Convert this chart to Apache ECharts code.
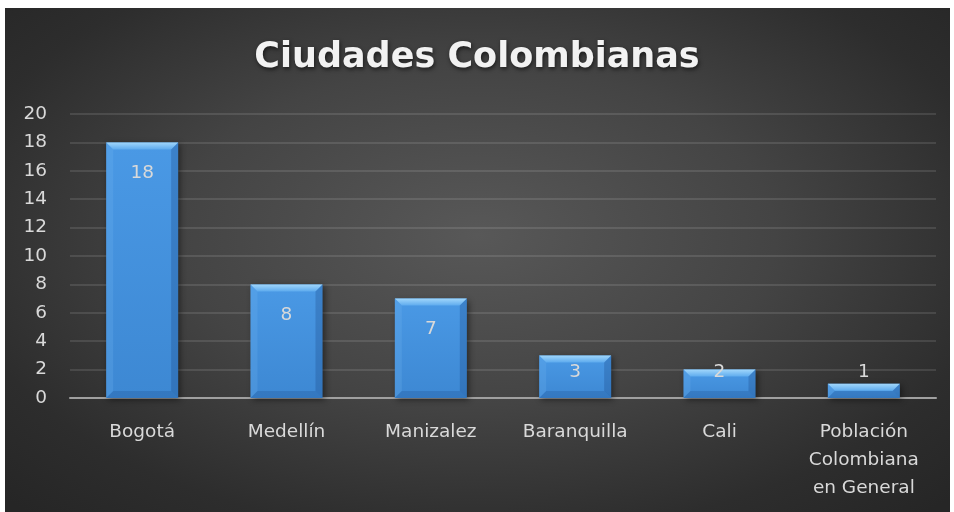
<!DOCTYPE html>
<html>
<head>
<meta charset="utf-8">
<script src="https://cdn.jsdelivr.net/npm/echarts@6/dist/echarts.min.js"></script>
<style>
  html, body { margin: 0; padding: 0; background: #ffffff; }
  #bg { position: absolute; left: 5px; top: 8px; width: 945px; height: 504px;
        background: radial-gradient(ellipse 70% 75% at 50% 45%, #585858 0%, #444444 45%, #2d2d2d 80%, #262626 100%); }
  #chart { position: absolute; left: 0; top: 0; width: 954px; height: 512px; }
</style>
</head>
<body>
<div id="bg"></div>
<div id="chart"></div>
<script>
const titleText = 'Ciudades Colombianas';
const categories = ['Bogotá', 'Medellín', 'Manizalez', 'Baranquilla', 'Cali', 'Población\nColombiana\nen General'];
const values = [18, 8, 7, 3, 2, 1];
const yTicks = { min: 0, max: 20, interval: 2 };

const chart = echarts.init(document.getElementById('chart'), null, { renderer: 'canvas' });

const labelFont = { fontFamily: 'DejaVu Sans', fontSize: 18.5, color: '#d9d9d9' };

const barData = values.map(v => {
  const small = v <= 3;
  return {
    value: v,
    label: small
      ? { position: 'insideBottom', distance: 16 }
      : { position: 'insideTop', distance: 21 }
  };
});

function renderBevel(params, api) {
  const idx = api.value(0);
  const val = api.value(1);
  const top = api.coord([idx, val]);
  const bot = api.coord([idx, 0]);
  const w = 72;
  const x0 = top[0] - w / 2, x1 = top[0] + w / 2;
  const yt = top[1], yb = bot[1];
  const h = yb - yt;
  const b = Math.min(7, h / 2);
  return {
    type: 'group',
    children: [
      { type: 'rect', shape: { x: x0, y: yt, width: w, height: h },
        style: { fill: new echarts.graphic.LinearGradient(0, 0, 0, 1, [
          { offset: 0, color: '#4a99e5' }, { offset: 1, color: '#3d88d3' }]),
          shadowBlur: 6, shadowColor: 'rgba(0,0,0,0.45)', shadowOffsetX: 2, shadowOffsetY: 2 } },
      { type: 'polygon', shape: { points: [[x0, yt], [x1, yt], [x1 - b, yt + b], [x0 + b, yt + b]] },
        style: { fill: new echarts.graphic.LinearGradient(0, 0, 0, 1, [
          { offset: 0, color: '#a0d6fb' }, { offset: 1, color: '#5eabee' }]) } },
      { type: 'polygon', shape: { points: [[x0, yt], [x0 + b, yt + b], [x0 + b, yb - b], [x0, yb]] },
        style: { fill: 'rgba(110,180,240,0.25)' } },
      { type: 'polygon', shape: { points: [[x1, yt], [x1, yb], [x1 - b, yb - b], [x1 - b, yt + b]] },
        style: { fill: 'rgba(20,60,120,0.25)' } },
      { type: 'polygon', shape: { points: [[x0, yb], [x0 + b, yb - b], [x1 - b, yb - b], [x1, yb]] },
        style: { fill: 'rgba(20,60,120,0.2)' } }
    ]
  };
}

const option = {
  backgroundColor: 'transparent',
  animation: false,
  title: {
    text: titleText,
    left: 'center',
    top: 35,
    textStyle: {
      fontFamily: 'DejaVu Sans', fontWeight: 'bold', fontSize: 35, color: '#f2f2f2',
      textShadowColor: 'rgba(0,0,0,0.6)', textShadowBlur: 4, textShadowOffsetX: 1, textShadowOffsetY: 2
    }
  },
  grid: { left: 70, right: 18, top: 114, bottom: 114, containLabel: false },
  xAxis: {
    type: 'category',
    data: categories,
    axisLine: { lineStyle: { color: '#a0a0a0', width: 2 } },
    axisTick: { show: false },
    axisLabel: Object.assign({ margin: 20, lineHeight: 28, interval: 0 }, labelFont)
  },
  yAxis: {
    type: 'value',
    min: yTicks.min, max: yTicks.max, interval: yTicks.interval,
    axisLine: { show: false },
    axisTick: { show: false },
    axisLabel: Object.assign({ margin: 23 }, labelFont),
    splitLine: { lineStyle: { color: 'rgba(255,255,255,0.11)', width: 2 } }
  },
  series: [
    {
      type: 'custom',
      renderItem: renderBevel,
      data: values.map((v, i) => [i, v]),
      z: 2,
      silent: true
    },
    {
      type: 'bar',
      data: barData,
      barWidth: 72,
      z: 3,
      itemStyle: { color: 'transparent' },
      label: Object.assign({ show: true }, labelFont)
    }
  ]
};
chart.setOption(option);
</script>
</body>
</html>
